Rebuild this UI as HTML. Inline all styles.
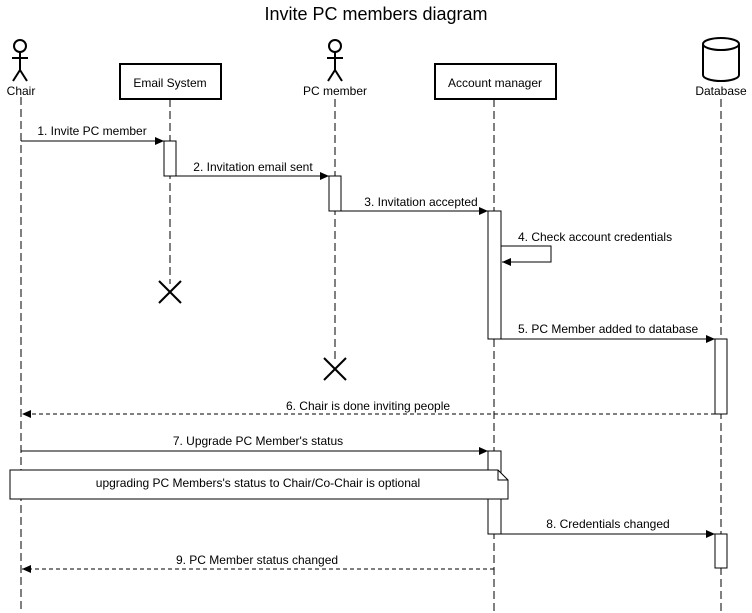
<!DOCTYPE html>
<html><head><meta charset="utf-8"><style>
html,body{margin:0;padding:0;background:#fff;}
svg{display:block;font-family:"Liberation Sans",Arial,sans-serif;}
</style></head><body>
<svg width="752" height="613" viewBox="0 0 752 613" xmlns="http://www.w3.org/2000/svg">
<defs>
<marker id="a" markerWidth="10" markerHeight="10" refX="9" refY="4" orient="auto" markerUnits="userSpaceOnUse"><path d="M0,0 L9,4 L0,8 z" fill="#000"/></marker>
</defs>
<rect width="752" height="613" fill="#fff"/>
<text x="376" y="20" font-size="18" text-anchor="middle">Invite PC members diagram</text>
<g stroke="#000" fill="none" stroke-width="1">
<g stroke-dasharray="8,4">
<line x1="21" y1="97" x2="21" y2="613"/>
<line x1="170" y1="99" x2="170" y2="284"/>
<line x1="335" y1="99" x2="335" y2="360"/>
<line x1="494" y1="99" x2="494" y2="613"/>
<line x1="721" y1="99" x2="721" y2="613"/>
</g>
<circle cx="20" cy="46" r="6" stroke-width="2"/>
<line x1="20" y1="52" x2="20" y2="70" stroke-width="2"/>
<line x1="12" y1="58" x2="28" y2="58" stroke-width="2"/>
<line x1="20" y1="70" x2="13" y2="81" stroke-width="2"/>
<line x1="20" y1="70" x2="27" y2="81" stroke-width="2"/>
<circle cx="335" cy="46" r="6" stroke-width="2"/>
<line x1="335" y1="52" x2="335" y2="70" stroke-width="2"/>
<line x1="327" y1="58" x2="343" y2="58" stroke-width="2"/>
<line x1="335" y1="70" x2="328" y2="81" stroke-width="2"/>
<line x1="335" y1="70" x2="342" y2="81" stroke-width="2"/>
<rect x="120" y="64" width="101" height="35" fill="#fff" stroke-width="2"/>
<rect x="435" y="64" width="121" height="35" fill="#fff" stroke-width="2"/>
<path d="M703,44 L703,75 A18,6 0 0 0 739,75 L739,44" stroke-width="2" fill="#fff"/>
<ellipse cx="721" cy="44" rx="18" ry="6" stroke-width="2" fill="#fff"/>
<rect x="164" y="141" width="12" height="35" fill="#fff"/>
<rect x="329" y="176" width="12" height="35" fill="#fff"/>
<rect x="488" y="211" width="13" height="128" fill="#fff"/>
<rect x="715" y="339" width="12" height="75" fill="#fff"/>
<rect x="488" y="451" width="13" height="83" fill="#fff"/>
<rect x="715" y="534" width="12" height="34" fill="#fff"/>
<line x1="21" y1="141" x2="164" y2="141" marker-end="url(#a)"/>
<line x1="176" y1="176" x2="329" y2="176" marker-end="url(#a)"/>
<line x1="341" y1="211" x2="488" y2="211" marker-end="url(#a)"/>
<polyline points="501,246 551,246 551,262 502,262" marker-end="url(#a)"/>
<line x1="501" y1="339" x2="715" y2="339" marker-end="url(#a)"/>
<line x1="715" y1="414" x2="22" y2="414" stroke-dasharray="4,3" marker-end="url(#a)"/>
<line x1="21" y1="451" x2="488" y2="451" marker-end="url(#a)"/>
<line x1="501" y1="534" x2="715" y2="534" marker-end="url(#a)"/>
<line x1="494" y1="569" x2="22" y2="569" stroke-dasharray="4,3" marker-end="url(#a)"/>
<path d="M10,470 L498,470 L508,480 L508,499 L10,499 Z" fill="#fff"/>
<path d="M498,470 L498,480 L508,480"/>
<line x1="159" y1="281" x2="181" y2="303" stroke-width="2"/>
<line x1="181" y1="281" x2="159" y2="303" stroke-width="2"/>
<line x1="324" y1="358" x2="346" y2="380" stroke-width="2"/>
<line x1="346" y1="358" x2="324" y2="380" stroke-width="2"/>
</g>
<g font-size="12" fill="#000">
<text x="21" y="95" text-anchor="middle">Chair</text>
<text x="170" y="87" text-anchor="middle">Email System</text>
<text x="335" y="95" text-anchor="middle">PC member</text>
<text x="495" y="87" text-anchor="middle">Account manager</text>
<text x="721" y="95" text-anchor="middle">Database</text>
<text x="92" y="135" text-anchor="middle">1. Invite PC member</text>
<text x="253" y="171" text-anchor="middle">2. Invitation email sent</text>
<text x="421" y="206" text-anchor="middle">3. Invitation accepted</text>
<text x="518" y="241">4. Check account credentials</text>
<text x="518" y="333">5. PC Member added to database</text>
<text x="368" y="410" text-anchor="middle">6. Chair is done inviting people</text>
<text x="258" y="445" text-anchor="middle">7. Upgrade PC Member's status</text>
<text x="258" y="487" text-anchor="middle">upgrading PC Members's status to Chair/Co-Chair is optional</text>
<text x="608" y="528" text-anchor="middle">8. Credentials changed</text>
<text x="257" y="564" text-anchor="middle">9. PC Member status changed</text>
</g>
</svg>
</body></html>
